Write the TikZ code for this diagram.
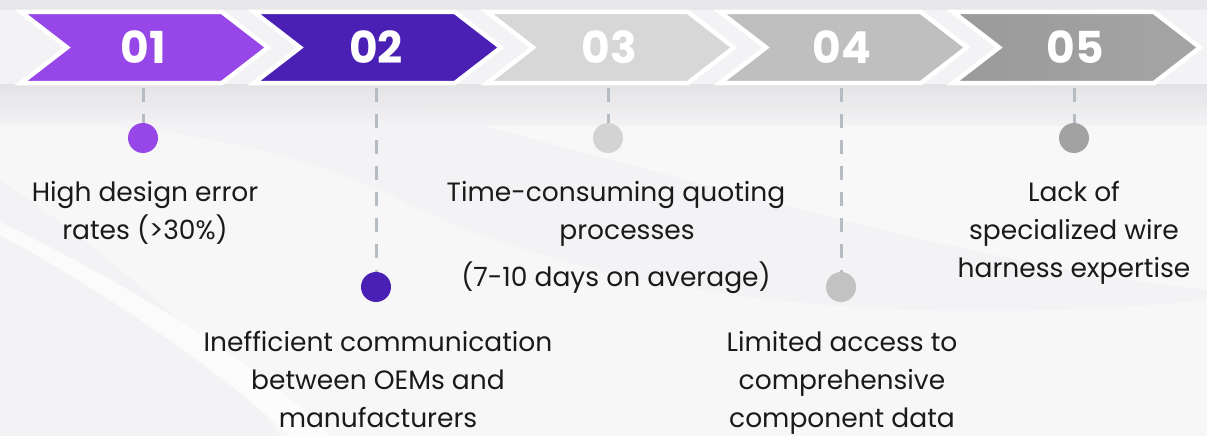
\documentclass[tikz,border=0pt]{standalone}
\usepackage{fontspec}
\setmainfont{Poppins}
\usetikzlibrary{fadings}
\definecolor{bgc}{HTML}{F3F3F5}
\definecolor{pa}{HTML}{9747E8}
\definecolor{pb}{HTML}{4A20B4}
\definecolor{ga}{HTML}{D7D7D7}
\definecolor{gb}{HTML}{BFBFBF}
\definecolor{gc}{HTML}{A5A5A5}
\definecolor{gcd}{HTML}{9A9A9A}
\definecolor{da}{HTML}{D3D3D3}
\definecolor{db}{HTML}{C2C2C2}
\definecolor{dc}{HTML}{A2A2A2}
\definecolor{dashc}{HTML}{B5BCC3}
\definecolor{txtc}{HTML}{1A1A1A}
\definecolor{bandc}{HTML}{E2E2E4}
\begin{document}
\begin{tikzpicture}[x=1pt,y=1pt,
  chev/.style={draw=white,line width=4.5pt,line join=miter},
  num/.style={font=\fontsize{44}{44}\selectfont\bfseries,text=white,inner sep=0},
  txt/.style={font=\fontsize{26.5}{30}\selectfont,text=txtc,inner sep=0,anchor=base},
  dotn/.style={circle,minimum size=30pt,inner sep=0},
  conn/.style={draw=dashc,line width=3pt,dash pattern=on 14pt off 12pt}]
\useasboundingbox (0,0) rectangle (1207,-436);
% background
\fill[bgc] (0,0) rectangle (1207,-436);
\fill[white,opacity=0.45] (420,-110) .. controls (700,-180) and (950,-260) .. (1207,-290) -- (1207,-110) -- cycle;
\fill[white,opacity=0.35] (0,-180) .. controls (120,-260) and (230,-360) .. (280,-436) -- (1207,-436) -- (1207,-300) .. controls (900,-330) and (600,-300) .. (400,-200) .. controls (300,-150) and (150,-120) .. (0,-120) -- cycle;
\fill[white,opacity=0.7] (0,-235) .. controls (120,-300) and (230,-380) .. (290,-436) -- (330,-436) .. controls (260,-365) and (130,-285) .. (0,-222) -- cycle;
\shade[top color=bandc,bottom color=bgc,opacity=0.9] (0,-84) rectangle (1207,-125);
\fill[bandc,opacity=0.6] (0,0) rectangle (1207,-10);
% chevrons
\filldraw[chev,fill=pa] (21,-12) -- (222,-12) -- (268,-47.5) -- (222,-83) -- (21,-83) -- (67,-47.5) -- cycle;
\filldraw[chev,fill=pb] (254,-12) -- (455,-12) -- (501,-47.5) -- (455,-83) -- (254,-83) -- (300,-47.5) -- cycle;
\filldraw[chev,fill=ga] (487,-12) -- (688,-12) -- (734,-47.5) -- (688,-83) -- (487,-83) -- (533,-47.5) -- cycle;
\filldraw[chev,fill=gb] (720,-12) -- (921,-12) -- (967,-47.5) -- (921,-83) -- (720,-83) -- (766,-47.5) -- cycle;
\shade[left color=gcd,right color=gc] (953,-12) -- (1154,-12) -- (1200,-47.5) -- (1154,-83) -- (953,-83) -- (999,-47.5) -- cycle;
\draw[chev] (953,-12) -- (1154,-12) -- (1200,-47.5) -- (1154,-83) -- (953,-83) -- (999,-47.5) -- cycle;
% numbers
\node[num] (n1) at (143,-47) {01};
\node[num] (n2) at (376,-47) {02};
\node[num] (n3) at (609,-47) {03};
\node[num] (n4) at (842,-47) {04};
\node[num] (n5) at (1075,-47) {05};
% dots
\node[dotn,fill=pa] (d1) at (143,-138) {};
\node[dotn,fill=pb] (d2) at (376,-287) {};
\node[dotn,fill=da] (d3) at (608,-138) {};
\node[dotn,fill=db] (d4) at (841,-287) {};
\node[dotn,fill=dc] (d5) at (1074,-138) {};
% connectors
\coordinate (c1) at (143,-88);
\coordinate (c2) at (376,-88);
\coordinate (c3) at (608,-88);
\coordinate (c4) at (841,-88);
\coordinate (c5) at (1074,-88);
\draw[conn] (c1) -- (d1.north);
\draw[conn] (c2) -- (d2.north);
\draw[conn] (c3) -- (d3.north);
\draw[conn] (c4) -- (d4.north);
\draw[conn] (c5) -- (d5.north);
% texts
\node[txt] (t1a) at (145,-201) {High design error};
\node[txt] (t1b) at (145,-239) {rates (>30\%)};
\node[txt] (t2a) at (378,-351) {Inefficient communication};
\node[txt] (t2b) at (378,-389) {between OEMs and};
\node[txt] (t2c) at (378,-427) {manufacturers};
\node[txt] (t3a) at (616,-201) {Time-consuming quoting};
\node[txt] (t3b) at (627,-239) {processes};
\node[txt] (t3c) at (616,-286) {(7-10 days on average)};
\node[txt] (t4a) at (842,-351) {Limited access to};
\node[txt] (t4b) at (842,-389) {comprehensive};
\node[txt] (t4c) at (842,-427) {component data};
\node[txt] (t5a) at (1074,-201) {Lack of};
\node[txt] (t5b) at (1074,-239) {specialized wire};
\node[txt] (t5c) at (1074,-277) {harness expertise};
\end{tikzpicture}
\end{document}
